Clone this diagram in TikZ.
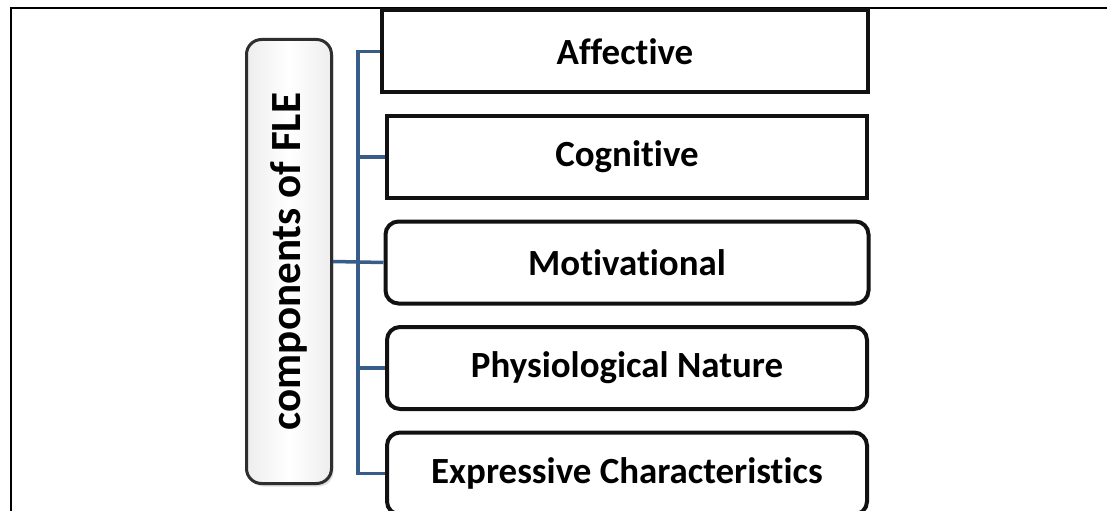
\documentclass[tikz,border=0pt]{standalone}
\usepackage{fontspec}
\setmainfont{Liberation Serif}
\newfontfamily\boxfont[Ligatures=NoCommon]{Carlito}
\usepackage{xcolor}
\usepackage{tikz}
\usetikzlibrary{positioning,calc,shadows}
\definecolor{steel}{HTML}{385D8A}
\definecolor{ink}{HTML}{111111}
\definecolor{bevel}{HTML}{2E2E2E}
\tikzset{
    every picture/.style={line join=miter},
    itembox/.style={draw=ink,fill=white,line width=0.8mm,
      minimum width=96mm,minimum height=16.4mm,inner sep=0pt,outer sep=0.4mm,
      font=\boxfont\bfseries\fontsize{21}{24}\selectfont,align=center},
    rounditem/.style={itembox,rounded corners=2.6mm},
    compbox/.style={draw=bevel,line width=0.6mm,rounded corners=3mm,
      left color=gray!14,right color=gray!14,middle color=white,
      drop shadow={opacity=0.25,shadow xshift=0.4mm,shadow yshift=-0.6mm},
      minimum width=88.8mm,minimum height=17mm,inner sep=0pt,outer sep=0.3mm,
      font=\boxfont\bfseries\fontsize{24.5}{28}\selectfont},
    link/.style={draw=steel,line width=0.7mm},
    frame/.style={draw=black,line width=0.45mm}
}
\begin{document}
\begin{tikzpicture}
  \useasboundingbox (0,0) rectangle (221.4mm,-102.2mm);

  % caption line, cut by the page edge
  \node[anchor=base west,inner sep=0pt,font=\bfseries\fontsize{22.7}{26}\selectfont]
    (caption) at (0.9mm,2.1mm) {Figure (1) Components of FLE};
  \draw[frame] (2.2mm,-110mm) |- (230mm,-1.6mm);

  \node[compbox,rotate=90] (comp) at (57.8mm,-52.3mm) {components of FLE};

  \node[itembox,minimum width=97.2mm] (aff) at (125mm,-10.3mm) {Affective};
  \node[itembox,below=3.9mm of aff,xshift=0.4mm] (cog) {Cognitive};
  \node[rounditem,below=3.9mm of cog,minimum width=96.6mm] (mot) {Motivational};
  \node[rounditem,below=3.9mm of mot] (phy) {Physiological Nature};
  \node[rounditem,below=3.9mm of phy] (exp) {Expressive Characteristics};

  \coordinate (spine) at (71.6mm,0);
  \draw[link] (aff.west) -| (spine |- exp.west) -- (exp.west);
  \foreach \b in {cog,phy}
    \draw[link] (spine |- \b.west) -- (\b.west);
  \draw[link] (comp.south) -- (mot.west);
\end{tikzpicture}
\end{document}
